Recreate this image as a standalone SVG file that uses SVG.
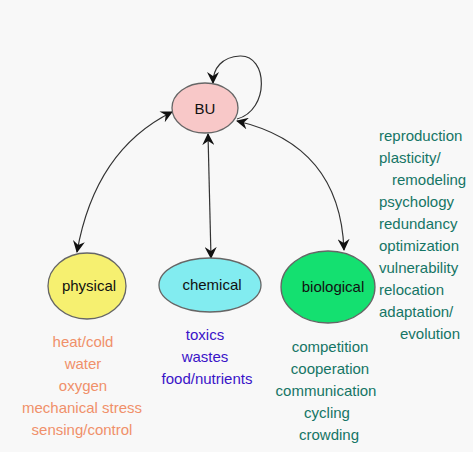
<svg xmlns="http://www.w3.org/2000/svg" width="473" height="452" viewBox="0 0 473 452">
<defs>
<marker id="ah" viewBox="0 0 12 12" refX="11" refY="6" markerWidth="12" markerHeight="12" markerUnits="userSpaceOnUse" orient="auto-start-reverse">
<path d="M0,0 L12,6 L0,12 L4,6 z" fill="#111"/>
</marker>
<style>
.edge{fill:none;stroke:#333;stroke-width:1.2}
.node{stroke:#666;stroke-width:1.3}
.lbl{font-family:"Liberation Sans",Arial,sans-serif;font-size:15px;text-anchor:middle;fill:#111}
.t{font-family:"Liberation Sans",Arial,sans-serif;font-size:15px}
.phys{fill:#f0906a;text-anchor:middle}
.chem{fill:#3a14c8;text-anchor:middle}
.bio{fill:#157565;text-anchor:middle}
.list{fill:#157565}
</style>
</defs>
<rect width="473" height="452" fill="#f8f8f8"/>
<g id="connectors">
<path class="edge" d="M237,119 C270,110 268,55 240,56 C222,57 213,68 213,83" marker-end="url(#ah)"/>
<path class="edge" d="M172,112 Q95,150 77,252" marker-start="url(#ah)" marker-end="url(#ah)"/>
<path class="edge" d="M208,134 L211,258" marker-start="url(#ah)" marker-end="url(#ah)"/>
<path class="edge" d="M237,121 Q340,145 344,250" marker-start="url(#ah)" marker-end="url(#ah)"/>
</g>
<g id="BU">
<ellipse class="node" cx="205" cy="108" rx="33" ry="25" fill="#f8c8c8"/>
<text class="lbl" x="205" y="114">BU</text>
</g>
<g id="physical">
<ellipse class="node" cx="87" cy="286" rx="39" ry="33" fill="#f6f070"/>
<text class="lbl" x="89" y="291" font-size="14.5">physical</text>
</g>
<g id="chemical">
<ellipse class="node" cx="210" cy="285" rx="51" ry="27" fill="#82ecf0"/>
<text class="lbl" x="212" y="290">chemical</text>
</g>
<g id="biological">
<ellipse class="node" cx="328" cy="287" rx="47" ry="36" fill="#14e070"/>
<text class="lbl" x="333" y="292">biological</text>
</g>
<g id="physical-labels" class="t phys">
<text x="83" y="347">heat/cold</text>
<text x="83" y="369">water</text>
<text x="83" y="391">oxygen</text>
<text x="82" y="413">mechanical stress</text>
<text x="82" y="435">sensing/control</text>
</g>
<g id="chemical-labels" class="t chem">
<text x="205" y="340">toxics</text>
<text x="205" y="362">wastes</text>
<text x="207" y="384">food/nutrients</text>
</g>
<g id="biological-labels" class="t bio">
<text x="330" y="352">competition</text>
<text x="330" y="374">cooperation</text>
<text x="326" y="396">communication</text>
<text x="327" y="418">cycling</text>
<text x="329" y="440">crowding</text>
</g>
<g id="bu-labels" class="t list">
<text x="379" y="141">reproduction</text>
<text x="379" y="163">plasticity/</text>
<text x="392" y="185">remodeling</text>
<text x="379" y="207">psychology</text>
<text x="379" y="229">redundancy</text>
<text x="379" y="251">optimization</text>
<text x="379" y="273">vulnerability</text>
<text x="379" y="295">relocation</text>
<text x="379" y="317">adaptation/</text>
<text x="400" y="339">evolution</text>
</g>
</svg>
